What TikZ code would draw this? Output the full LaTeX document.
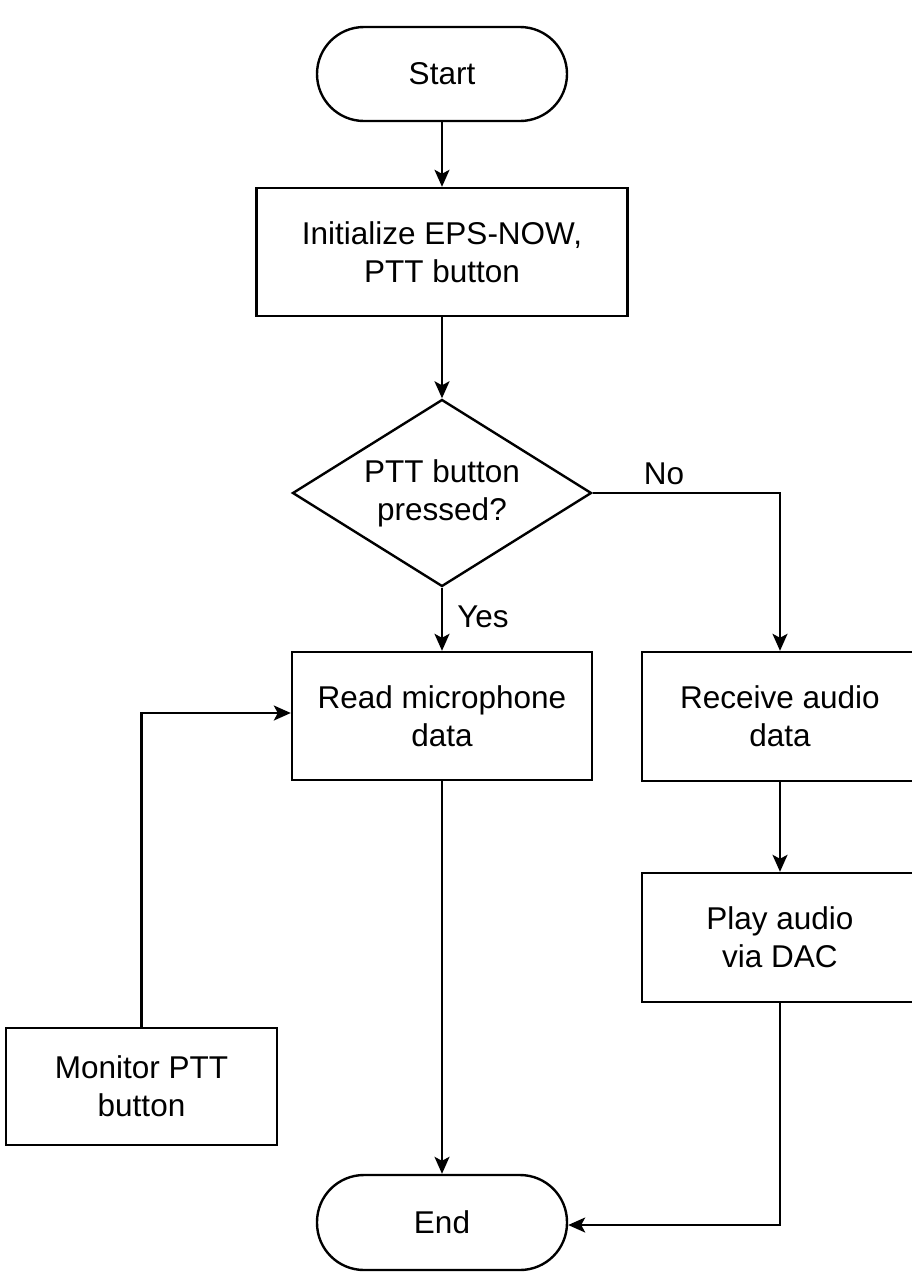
\documentclass[tikz,border=0pt]{standalone}
\usepackage{fontspec}
\setmainfont{Liberation Sans}
\usetikzlibrary{shapes.geometric,arrows.meta}
\begin{document}
\begin{tikzpicture}[x=1pt,y=-1pt,
  base/.style={draw=black,line width=2.4pt,fill=white,align=center,inner sep=0pt,
    font=\fontsize{31.5}{38}\selectfont},
  term/.style={base,rectangle,rounded corners=47pt,minimum width=250pt,minimum height=94pt},
  proc/.style={base,rectangle},
  dec/.style={base,diamond,aspect=1.6,minimum width=299pt,minimum height=187pt},
  conn/.style={line width=2.2pt,-{Stealth[length=17pt,width=15pt,inset=4pt]}},
  lbl/.style={font=\fontsize{31.5}{38}\selectfont,inner sep=0pt}]
\useasboundingbox (0,0) rectangle (912,1280);
\fill[white] (0,0) rectangle (912,1280);
\node[term] (start) at (442,74) {Start};
\node[proc,minimum width=371pt,minimum height=128pt] (init) at (442,252) {Initialize EPS-NOW,\\PTT button};
\node[dec] (dec) at (442,493) {PTT button\\pressed?};
\node[proc,minimum width=300pt,minimum height=128pt] (read) at (442,716) {Read microphone\\data};
\node[proc,minimum width=276pt,minimum height=129pt] (recv) at (780,716.5) {Receive audio\\data};
\node[proc,minimum width=276pt,minimum height=129pt] (play) at (780,937.5) {Play audio\\via DAC};
\node[proc,minimum width=271pt,minimum height=117pt] (mon) at (141.5,1086.5) {Monitor PTT\\button};
\node[term,minimum height=95pt] (end) at (442,1222.5) {End};
\coordinate (nocorner) at (780,493);
\coordinate (moncorner) at (141.5,713);
\coordinate (playcorner) at (780,1225);
\draw[conn] (start) -- (init);
\draw[conn] (init) -- (dec);
\draw[conn] (dec.south) -- (read.north);
\draw[conn] (dec.east) -- (nocorner) -- (recv.north);
\draw[conn] (recv) -- (play);
\draw[conn] (mon.north) -- (moncorner) -- (read.west |- moncorner);
\draw[conn] (read.south) -- (end.north);
\draw[conn] (play.south) -- (playcorner) -- (end.east |- playcorner);
\node[lbl] (no) at (664,474) {No};
\node[lbl] (yes) at (483,617) {Yes};
\end{tikzpicture}
\end{document}
